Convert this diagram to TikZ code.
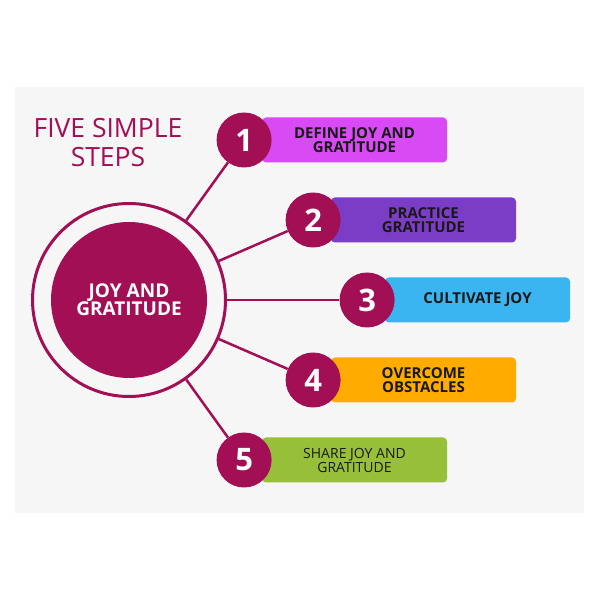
\documentclass[tikz,border=0pt]{standalone}
\usepackage{fontspec}
\setmainfont{Open Sans}
\usetikzlibrary{positioning}
\definecolor{berry}{HTML}{A30F55}
\definecolor{panel}{HTML}{F6F6F6}
\definecolor{stepA}{HTML}{D84AF4}
\definecolor{stepB}{HTML}{7B3CC6}
\definecolor{stepC}{HTML}{3AB5F1}
\definecolor{stepD}{HTML}{FFAB00}
\definecolor{stepE}{HTML}{97BF3A}

\begin{document}
\begin{tikzpicture}[
  x=1pt, y=1pt,
  num/.style={circle, fill=berry, minimum size=55pt, inner sep=0pt,
              text=white, font=\bfseries\fontsize{31}{31}\selectfont},
  bar/.style={rounded corners=4pt, minimum width=185pt, minimum height=45pt,
              inner sep=0pt, align=center, text=black!90,
              font=\bfseries\fontsize{15}{14.5}\selectfont},
  link/.style={draw=berry, line width=2.5pt}
]
  \useasboundingbox (0,0) rectangle (600,600);
  \fill[white] (0,0) rectangle (600,600);
  \fill[panel] (15,87) rectangle (584,513);

  \node[text=berry, align=center, font=\fontsize{26.5}{29}\selectfont] (title) at (108,457) {FIVE SIMPLE\\STEPS};

  \node[circle, draw=berry, line width=3pt, minimum size=193pt, inner sep=0pt] (ring) at (129,300) {};
  \node[circle, fill=berry, minimum size=156pt, inner sep=0pt, text=white, align=center,
        font=\bfseries\fontsize{19}{18}\selectfont] (core) at (ring) {JOY AND\\GRATITUDE};

  \node[bar, fill=stepA] (b1) at (354.5,460) {DEFINE JOY AND\\GRATITUDE};
  \node[num, left=-10pt of b1] (n1) {1};
  \node[bar, fill=stepB] (b2) at (423.5,380) {PRACTICE\\GRATITUDE};
  \node[num, left=-10pt of b2] (n2) {2};
  \node[bar, fill=stepC] (b3) at (477.5,300) {CULTIVATE JOY};
  \node[num, left=-10pt of b3] (n3) {3};
  \node[bar, fill=stepD] (b4) at (423.5,220) {OVERCOME\\OBSTACLES};
  \node[num, left=-10pt of b4] (n4) {4};
  \node[bar, fill=stepE, font=\fontsize{14}{14}\selectfont] (b5) at (354.5,140) {SHARE JOY AND\\GRATITUDE};
  \node[num, left=-10pt of b5] (n5) {5};

  \draw[link] (ring) -- (n1);
  \draw[link] (ring) -- (n2);
  \draw[link] (ring) -- (n3);
  \draw[link] (ring) -- (n4);
  \draw[link] (ring) -- (n5);
\end{tikzpicture}
\end{document}
